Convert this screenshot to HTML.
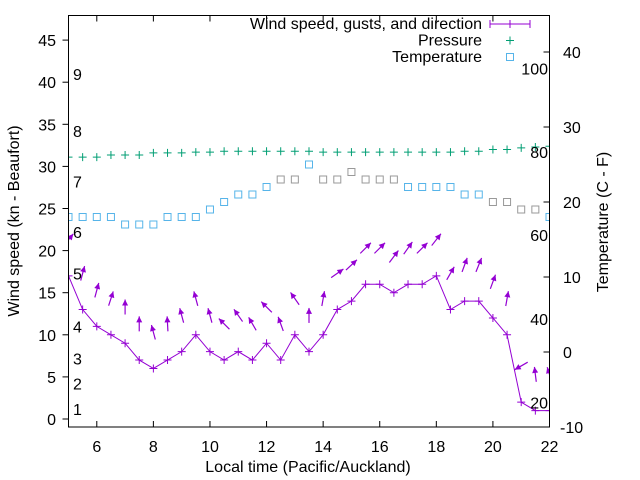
<!DOCTYPE html>
<html><head><meta charset="utf-8"><style>
html,body{margin:0;padding:0;background:#fff}
svg{display:block;font-family:"Liberation Sans",sans-serif;font-size:16px}
</style></head><body>
<svg id="chart" width="640" height="480" viewBox="0 0 640 480">
<rect x="0" y="0" width="640" height="480" fill="#fff"/>
<g id="marks"></g>
<g id="axes"></g>
</svg>
<script>
const hours = [5,5.5,6,6.5,7,7.5,8,8.5,9,9.5,10,10.5,11,11.5,12,12.5,13,13.5,14,14.5,15,15.5,16,16.5,17,17.5,18,18.5,19,19.5,20,20.5,21,21.5,22];
const windSpeed = [17,13,11,10,9,7,6,7,8,10,8,7,8,7,9,7,10,8,10,13,14,16,16,15,16,16,17,13,14,14,12,10,2,1,1];
const windDir = [40,15,15,18,0,0,-15,-3,-15,-15,-15,-45,-35,-30,-45,-20,-35,0,10,55,47,45,45,37,35,45,38,30,20,22,20,10,240,-7,-18];
const pressure = [31.1,31.1,31.1,31.35,31.35,31.35,31.6,31.6,31.6,31.7,31.7,31.8,31.8,31.8,31.8,31.8,31.8,31.8,31.7,31.7,31.7,31.7,31.7,31.7,31.7,31.7,31.7,31.7,31.8,31.8,32.0,32.0,32.2,32.3,32.4];
const temperature = [18,18,18,18,17,17,17,18,18,18,19,20,21,21,22,23,23,25,23,23,24,23,23,23,22,22,22,22,21,21,20,20,19,19,18];
const tempGray = [0,0,0,0,0,0,0,0,0,0,0,0,0,0,0,1,1,0,1,1,1,1,1,1,0,0,0,0,0,0,1,1,1,1,0];
const xTicks = [6,8,10,12,14,16,18,20,22];
const yTicks = [0,5,10,15,20,25,30,35,40,45];
const y2Ticks = [-10,0,10,20,30,40];
const beaufortLabels = ["1","2","3","4","5","6","7","8","9"];
const beaufortY = [1.2,4.2,7.2,11,17.3,22.2,28.2,34.2,41];
const fahrLabels = ["20","40","60","80","100"];
const fahrValues = [-6.7,4.4,15.6,26.7,37.8];

const L=68.5,R=549.5,T=15.5,B=427;
const X=h=>L+(h-5)/17*(R-L);
const Y=v=>419-v*8.42;
const Y2=v=>352-v*7.5;
const NS="http://www.w3.org/2000/svg";
const marks=document.getElementById('marks'),axes=document.getElementById('axes');
function mk(tag,attrs,parent){const e=document.createElementNS(NS,tag);for(const k in attrs)e.setAttribute(k,attrs[k]);parent.appendChild(e);return e;}
const clip=mk('clipPath',{id:'cp'},document.getElementById('chart'));
mk('rect',{x:L,y:T,width:R-L,height:B-T},clip);
marks.setAttribute('clip-path','url(#cp)');
const P="#9400d3",G="#009e73",C="#56b4e9";

// pressure
pressure.forEach((p,i)=>{const x=X(hours[i]),y=Y(p);
 const e=mk('path',{d:`M${x-4},${y}h8M${x},${y-4}v8`,stroke:G,'stroke-width':1},marks);
 
 });
// temperature
temperature.forEach((t,i)=>{const x=X(hours[i]),y=Y2(t);
 const e=mk('rect',{x:x-3.5,y:y-3.5,width:7,height:7,fill:'none',stroke:tempGray[i]?'#999':C,'stroke-width':1},marks);
 
 });
// wind line
const wl=mk('polyline',{points:windSpeed.map((w,i)=>X(hours[i])+','+Y(w)).join(' '),fill:'none',stroke:P,'stroke-width':1},marks);


windSpeed.forEach((w,i)=>{const x=X(hours[i]),y=Y(w);
 const e=mk('path',{d:`M${x-4},${y}h8M${x},${y-4}v8`,stroke:P,'stroke-width':1},marks);
 
 });
// direction arrows
windDir.forEach((d,i)=>{const cx=X(hours[i]),cy=Y(windSpeed[i]+4.3);const a=d*Math.PI/180,len=15;
 const dx=Math.sin(a)*len/2,dy=-Math.cos(a)*len/2;
 const tx=cx+dx,ty=cy+dy;const ux=Math.sin(a),uy=-Math.cos(a);
 const bx=tx-ux*6,by=ty-uy*6;
 const g=mk('g',{},marks);
 
 
 mk('line',{x1:cx-dx,y1:cy-dy,x2:tx,y2:ty,stroke:P,'stroke-width':1.2},g);
 mk('polygon',{points:`${tx},${ty} ${bx-uy*3},${by+ux*3} ${bx+uy*3},${by-ux*3}`,fill:P},g);});

// frame
mk('rect',{x:L,y:T,width:R-L,height:B-T,fill:'none',stroke:'#000','stroke-width':1},axes);
xTicks.forEach(h=>{const x=X(h);
 mk('path',{d:`M${x},${B}v-6M${x},${T}v6`,stroke:'#000'},axes);
 const t=mk('text',{x:x,y:452,'text-anchor':'middle'},axes);t.textContent=h;
 
 });
yTicks.forEach(v=>{const y=Y(v);
 mk('path',{d:`M${L},${y}h-6`,stroke:'#000'},axes);
 const t=mk('text',{x:56,y:y+6,'text-anchor':'end'},axes);t.textContent=v;
 
 });
y2Ticks.forEach(v=>{const y=Y2(v);
 mk('path',{d:`M${R},${y}h-6`,stroke:'#000'},axes);
 const t=mk('text',{x:563,y:y+6,'text-anchor':'start'},axes);t.textContent=v;
 if(v<0)t.setAttribute('x',560);
 
 });
beaufortLabels.forEach((s,i)=>{const t=mk('text',{x:73,y:Y(beaufortY[i])+6},axes);t.textContent=s;
 
 });
fahrLabels.forEach((s,i)=>{const t=mk('text',{x:548,y:Y2(fahrValues[i])+6,'text-anchor':'end'},axes);t.textContent=s;
 
 });
let t=mk('text',{x:308,y:472,'text-anchor':'middle'},axes);t.textContent='Local time (Pacific/Auckland)';


t=mk('text',{x:0,y:0,'text-anchor':'middle',transform:'translate(19,221) rotate(-90)'},axes);t.textContent='Wind speed (kn - Beaufort)';


t=mk('text',{x:0,y:0,'text-anchor':'middle',transform:'translate(608,222) rotate(-90)'},axes);t.textContent='Temperature (C - F)';


// legend
const leg=[['Wind speed, gusts, and direction',P,'err'],['Pressure',G,'plus'],['Temperature',C,'sq']];
leg.forEach((l,i)=>{const y=24+i*16.5;const g=mk('g',{},axes);
 
 
 const tx=mk('text',{x:482,y:y+5,'text-anchor':'end'},g);tx.textContent=l[0];
 if(l[2]==='err'){mk('path',{d:`M490,${y}h40M490,${y-4}v8M530,${y-4}v8M510,${y-4}v8`,stroke:l[1]},g);}
 else if(l[2]==='plus'){mk('path',{d:`M506,${y}h8M510,${y-4}v8`,stroke:l[1]},g);}
 else{mk('rect',{x:506.5,y:y-3.5,width:7,height:7,fill:'none',stroke:l[1]},g);}});
</script>
</body></html>
